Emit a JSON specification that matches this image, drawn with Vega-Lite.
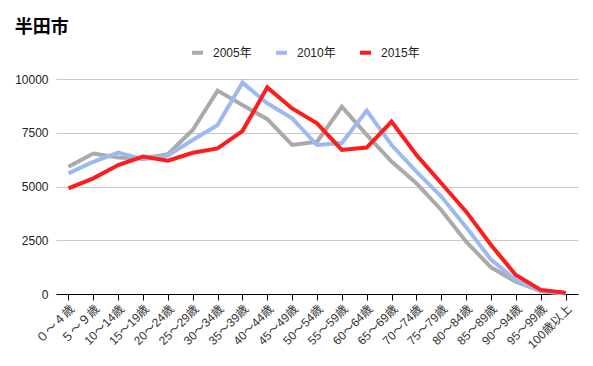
{
  "$schema": "https://vega.github.io/schema/vega-lite/v6.json",
  "width": 522,
  "height": 215,
  "autosize": "none",
  "padding": {"left": 56, "top": 79, "right": 15, "bottom": 72},
  "background": "white",
  "config": {
    "font": "Liberation Sans, Noto Sans CJK JP",
    "view": {"stroke": null}
  },
  "title": {
    "text": "半田市",
    "anchor": "start",
    "fontSize": 18,
    "fontWeight": "bold",
    "color": "#000000",
    "font": "Noto Sans CJK JP",
    "frame": "bounds",
    "dx": 0,
    "offset": 8
  },
  "data": {
    "values": [
      {"age": "０～４歳", "year": "2005年", "value": 5920},
      {"age": "５～９歳", "year": "2005年", "value": 6530},
      {"age": "10～14歳", "year": "2005年", "value": 6350},
      {"age": "15～19歳", "year": "2005年", "value": 6300},
      {"age": "20～24歳", "year": "2005年", "value": 6500},
      {"age": "25～29歳", "year": "2005年", "value": 7630},
      {"age": "30～34歳", "year": "2005年", "value": 9460},
      {"age": "35～39歳", "year": "2005年", "value": 8790},
      {"age": "40～44歳", "year": "2005年", "value": 8130},
      {"age": "45～49歳", "year": "2005年", "value": 6930},
      {"age": "50～54歳", "year": "2005年", "value": 7080},
      {"age": "55～59歳", "year": "2005年", "value": 8710},
      {"age": "60～64歳", "year": "2005年", "value": 7400},
      {"age": "65～69歳", "year": "2005年", "value": 6160},
      {"age": "70～74歳", "year": "2005年", "value": 5150},
      {"age": "75～79歳", "year": "2005年", "value": 3910},
      {"age": "80～84歳", "year": "2005年", "value": 2430},
      {"age": "85～89歳", "year": "2005年", "value": 1240},
      {"age": "90～94歳", "year": "2005年", "value": 570},
      {"age": "95～99歳", "year": "2005年", "value": 140},
      {"age": "100歳以上", "year": "2005年", "value": 25},
      {"age": "０～４歳", "year": "2010年", "value": 5610},
      {"age": "５～９歳", "year": "2010年", "value": 6150},
      {"age": "10～14歳", "year": "2010年", "value": 6580},
      {"age": "15～19歳", "year": "2010年", "value": 6270},
      {"age": "20～24歳", "year": "2010年", "value": 6440},
      {"age": "25～29歳", "year": "2010年", "value": 7160},
      {"age": "30～34歳", "year": "2010年", "value": 7860},
      {"age": "35～39歳", "year": "2010年", "value": 9830},
      {"age": "40～44歳", "year": "2010年", "value": 8870},
      {"age": "45～49歳", "year": "2010年", "value": 8170},
      {"age": "50～54歳", "year": "2010年", "value": 6930},
      {"age": "55～59歳", "year": "2010年", "value": 7020},
      {"age": "60～64歳", "year": "2010年", "value": 8530},
      {"age": "65～69歳", "year": "2010年", "value": 6930},
      {"age": "70～74歳", "year": "2010年", "value": 5690},
      {"age": "75～79歳", "year": "2010年", "value": 4530},
      {"age": "80～84歳", "year": "2010年", "value": 3110},
      {"age": "85～89歳", "year": "2010年", "value": 1600},
      {"age": "90～94歳", "year": "2010年", "value": 650},
      {"age": "95～99歳", "year": "2010年", "value": 110},
      {"age": "100歳以上", "year": "2010年", "value": 30},
      {"age": "０～４歳", "year": "2015年", "value": 4915},
      {"age": "５～９歳", "year": "2015年", "value": 5380},
      {"age": "10～14歳", "year": "2015年", "value": 6000},
      {"age": "15～19歳", "year": "2015年", "value": 6390},
      {"age": "20～24歳", "year": "2015年", "value": 6200},
      {"age": "25～29歳", "year": "2015年", "value": 6570},
      {"age": "30～34歳", "year": "2015年", "value": 6770},
      {"age": "35～39歳", "year": "2015年", "value": 7580},
      {"age": "40～44歳", "year": "2015年", "value": 9610},
      {"age": "45～49歳", "year": "2015年", "value": 8630},
      {"age": "50～54歳", "year": "2015年", "value": 7940},
      {"age": "55～59歳", "year": "2015年", "value": 6700},
      {"age": "60～64歳", "year": "2015年", "value": 6810},
      {"age": "65～69歳", "year": "2015年", "value": 8020},
      {"age": "70～74歳", "year": "2015年", "value": 6470},
      {"age": "75～79歳", "year": "2015年", "value": 5150},
      {"age": "80～84歳", "year": "2015年", "value": 3830},
      {"age": "85～89歳", "year": "2015年", "value": 2280},
      {"age": "90～94歳", "year": "2015年", "value": 880},
      {"age": "95～99歳", "year": "2015年", "value": 190},
      {"age": "100歳以上", "year": "2015年", "value": 60}
    ]
  },
  "mark": {"type": "line", "strokeWidth": 4, "strokeJoin": "miter"},
  "encoding": {
    "x": {
      "field": "age",
      "type": "ordinal",
      "sort": null,
      "scale": {"type": "point", "padding": 0.5},
      "axis": {
        "title": null,
        "labelAngle": -45,
        "labelFontSize": 12,
        "labelColor": "#333333",
        "domainColor": "#000000",
        "domainWidth": 1,
        "tickColor": "#000000",
        "tickSize": 6,
        "labelPadding": 3,
        "grid": false
      }
    },
    "y": {
      "field": "value",
      "type": "quantitative",
      "scale": {"domain": [0, 10000], "nice": false},
      "axis": {
        "title": null,
        "values": [0, 2500, 5000, 7500, 10000],
        "format": "d",
        "labelFontSize": 12,
        "labelColor": "#222222",
        "labelPadding": 8,
        "domain": false,
        "ticks": false,
        "gridColor": "#c8c8c8",
        "gridWidth": 1
      }
    },
    "color": {
      "field": "year",
      "type": "nominal",
      "scale": {
        "domain": ["2005年", "2010年", "2015年"],
        "range": ["#aaaaaa", "#9dbaf0", "#ff1c1c"]
      },
      "legend": {
        "title": null,
        "orient": "none",
        "legendX": 134,
        "legendY": -34,
        "direction": "horizontal",
        "labelFontSize": 12,
        "labelColor": "#222222",
        "labelOffset": 8,
        "symbolType": "stroke",
        "symbolStrokeWidth": 4,
        "symbolSize": 120,
        "columnPadding": 16
      }
    }
  }
}
